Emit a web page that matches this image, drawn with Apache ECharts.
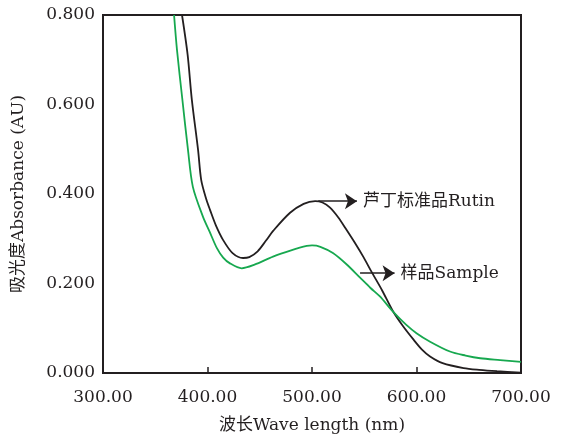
<!DOCTYPE html>
<html>
<head>
<meta charset="utf-8">
<script src="https://cdn.jsdelivr.net/npm/echarts@6/dist/echarts.min.js"></script>
<style>
  html, body { margin: 0; padding: 0; background: #fff; }
  #chart { width: 561px; height: 436px; }
</style>
</head>
<body>
<div id="chart"></div>
<script>
// 芦丁标准品 (standard) absorbance curve
var rutinWave = [375.6, 381, 385, 391, 394, 399, 402.5, 408, 415, 424, 434, 440, 448, 456, 463, 479, 492, 503, 510, 517, 525, 533, 541, 549, 557, 567, 577.5, 587, 597, 605, 613, 625, 645, 660, 677, 700];
var rutinAbs  = [0.800, 0.711, 0.611, 0.498, 0.431, 0.387, 0.364, 0.330, 0.297, 0.268, 0.257, 0.259, 0.272, 0.296, 0.318, 0.358, 0.378, 0.384, 0.381, 0.370, 0.348, 0.320, 0.291, 0.260, 0.226, 0.185, 0.138, 0.105, 0.075, 0.053, 0.037, 0.022, 0.011, 0.007, 0.004, 0.001];

// 样品 (sample) curve
var sampleWave = [368, 370.8, 376, 381.3, 386, 395.7, 402, 409, 415, 421.5, 432.7, 445, 462.7, 480, 495, 500, 508, 520, 533, 546, 556, 565, 577.5, 590, 600, 613, 632, 647, 661, 680, 700];
var sampleAbs  = [0.800, 0.722, 0.610, 0.499, 0.416, 0.349, 0.316, 0.279, 0.258, 0.245, 0.234, 0.242, 0.260, 0.274, 0.284, 0.285, 0.282, 0.268, 0.243, 0.213, 0.190, 0.171, 0.137, 0.108, 0.089, 0.070, 0.048, 0.039, 0.033, 0.029, 0.025];

var xTicks = [300, 400, 500, 600, 700];
var yTicks = [0, 0.2, 0.4, 0.6, 0.8];

// arrow annotations: [x start, x end, y], label
var rutinArrow = [506, 543, 0.384];
var sampleArrow = [546, 579, 0.223];
var rutinLabel = '芦丁标准品Rutin';
var sampleLabel = '样品Sample';

function pairs(xs, ys) {
    return xs.map(function (x, i) { return [x, ys[i]]; });
}

var font = "'DejaVu Serif', 'Noto Sans CJK SC', serif";
var ink = '#231f20';

function arrowMark(arrow, text) {
    return {
        silent: true,
        symbol: ['none', 'arrow'],
        symbolSize: 12,
        lineStyle: { color: ink, width: 1.6, type: 'solid' },
        label: {
            show: true, position: 'end', distance: 6,
            formatter: text,
            fontSize: 17, color: ink, fontFamily: font
        },
        data: [[{ coord: [arrow[0], arrow[2]] }, { coord: [arrow[1], arrow[2]] }]]
    };
}

var chart = echarts.init(document.getElementById('chart'));
chart.setOption({
    animation: false,
    textStyle: { fontFamily: font },
    grid: {
        left: 103, right: 40, top: 15, bottom: 63,
        outerBoundsMode: 'none',
        show: true, borderColor: ink, borderWidth: 2
    },
    xAxis: {
        type: 'value',
        min: xTicks[0], max: xTicks[xTicks.length - 1], interval: 100,
        name: '波长Wave length (nm)',
        nameLocation: 'middle', nameGap: 44,
        nameTextStyle: { fontSize: 17, color: ink, fontFamily: font },
        axisLine: { lineStyle: { color: ink, width: 2 } },
        axisTick: { inside: true, length: 6, lineStyle: { color: ink, width: 1.5 } },
        axisLabel: {
            fontSize: 17, color: ink, margin: 16, fontFamily: font,
            formatter: function (v) { return v.toFixed(2); }
        },
        splitLine: { show: false }
    },
    yAxis: {
        type: 'value',
        min: yTicks[0], max: yTicks[yTicks.length - 1], interval: 0.2,
        name: '吸光度Absorbance (AU)',
        nameLocation: 'middle', nameGap: 76, nameRotate: 90,
        nameTextStyle: { fontSize: 17, color: ink, fontFamily: font },
        axisLine: { lineStyle: { color: ink, width: 2 } },
        axisTick: { show: false },
        axisLabel: {
            fontSize: 17, color: ink, margin: 8, fontFamily: font,
            formatter: function (v) { return v.toFixed(3); }
        },
        splitLine: { show: false }
    },
    series: [
        {
            name: rutinLabel,
            type: 'line',
            smooth: 0.3,
            showSymbol: false,
            data: pairs(rutinWave, rutinAbs),
            lineStyle: { color: ink, width: 1.8 },
            markLine: arrowMark(rutinArrow, rutinLabel)
        },
        {
            name: sampleLabel,
            type: 'line',
            smooth: 0.3,
            showSymbol: false,
            data: pairs(sampleWave, sampleAbs),
            lineStyle: { color: '#17a84f', width: 1.8 },
            markLine: arrowMark(sampleArrow, sampleLabel)
        }
    ]
});
</script>
</body>
</html>
